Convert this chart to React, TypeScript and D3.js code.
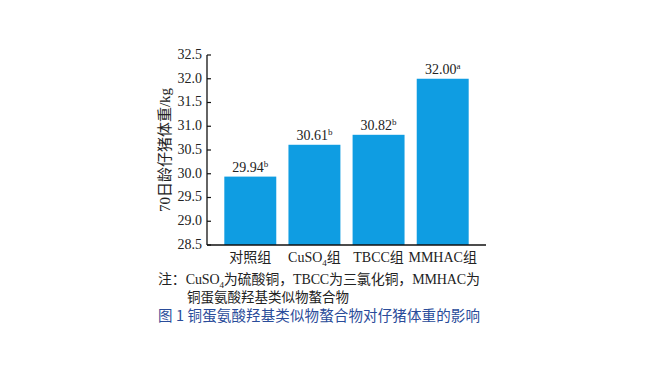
import React from "react";
import * as d3 from "d3";

const categories = ["对照组", "CuSO4组", "TBCC组", "MMHAC组"];
const values = [29.94, 30.61, 30.82, 32.0];
const letters = ["b", "b", "b", "a"];
const yTicks = [28.5, 29.0, 29.5, 30.0, 30.5, 31.0, 31.5, 32.0, 32.5];
const yTitle = "70日龄仔猪体重/kg";
const caption = "图 1  铜蛋氨酸羟基类似物螯合物对仔猪体重的影响";

const W = 650, H = 366;
const serif = "'Liberation Serif', 'Noto Sans CJK SC', serif";
const cjk = "'Liberation Serif', 'Noto Sans CJK SC', sans-serif";
const barColor = "#0f9de2";

function CatLabel({ name, x, y }: { name: string; x: number; y: number }) {
  if (name.startsWith("CuSO4")) {
    return (
      <text x={x} y={y} textAnchor="middle" fontFamily={cjk} fontSize={14} fill="#222">
        CuSO<tspan fontSize={9} dy={4}>4</tspan><tspan dy={-4}>组</tspan>
      </text>
    );
  }
  return (
    <text x={x} y={y} textAnchor="middle" fontFamily={cjk} fontSize={14} fill="#222">
      {name}
    </text>
  );
}

export default function App() {
  const x0 = 207, x1 = 486;
  const yTop = 55, yBot = 245;
  const x = d3.scaleBand<string>().domain(categories).range([x0, x1]).paddingInner(0.19).paddingOuter(0.27);
  const y = d3.scaleLinear().domain([28.5, 32.5]).range([yBot, yTop]);

  return (
    <svg width={W} height={H} style={{ position: "absolute", left: 0, top: 0, background: "#fff" }}>
      {/* bars */}
      {categories.map((c, i) => (
        <rect key={c} x={x(c)} y={y(values[i])} width={x.bandwidth()} height={yBot - y(values[i])} fill={barColor} />
      ))}
      {/* value labels */}
      {categories.map((c, i) => (
        <text key={"v" + c} x={(x(c) as number) + x.bandwidth() / 2} y={y(values[i]) - 5}
          textAnchor="middle" fontFamily={serif} fontSize={14} fill="#222">
          {values[i].toFixed(2)}<tspan fontSize={9} dy={-5}>{letters[i]}</tspan>
        </text>
      ))}
      {/* y axis */}
      <line x1={x0} x2={x0} y1={yTop} y2={yBot} stroke="#111" strokeWidth={1.3} />
      {yTicks.map((t) => (
        <g key={t}>
          <line x1={x0} x2={x0 + 4} y1={y(t)} y2={y(t)} stroke="#111" strokeWidth={1.2} />
          <text x={x0 - 5} y={y(t) - 1} dy="0.35em" textAnchor="end" fontFamily={serif} fontSize={14} fill="#222">
            {t.toFixed(1)}
          </text>
        </g>
      ))}
      {/* x axis */}
      <line x1={x0} x2={x1} y1={yBot} y2={yBot} stroke="#111" strokeWidth={1.3} />
      {categories.map((c) => (
        <CatLabel key={"c" + c} name={c} x={(x(c) as number) + x.bandwidth() / 2} y={262} />
      ))}
      {/* y title */}
      <text transform={`translate(170,150) rotate(-90)`} textAnchor="middle" fontFamily={cjk} fontSize={15} fill="#222">
        {yTitle}
      </text>
      {/* notes */}
      <text x={158} y={284} fontFamily={cjk} fontSize={14} fill="#222" textLength={322} lengthAdjust="spacing">
        注：CuSO<tspan fontSize={9} dy={4}>4</tspan><tspan dy={-4}>为硫酸铜，TBCC为三氯化铜，MMHAC为</tspan>
      </text>
      <text x={187} y={302} fontFamily={cjk} fontSize={13.5} fill="#222">
        铜蛋氨酸羟基类似物螯合物
      </text>
      <text x={158} y={321} fontFamily="'Noto Sans CJK SC', sans-serif" fontSize={14.5} fill="#2a4c9a" textLength={322} lengthAdjust="spacing">
        {caption}
      </text>
    </svg>
  );
}
